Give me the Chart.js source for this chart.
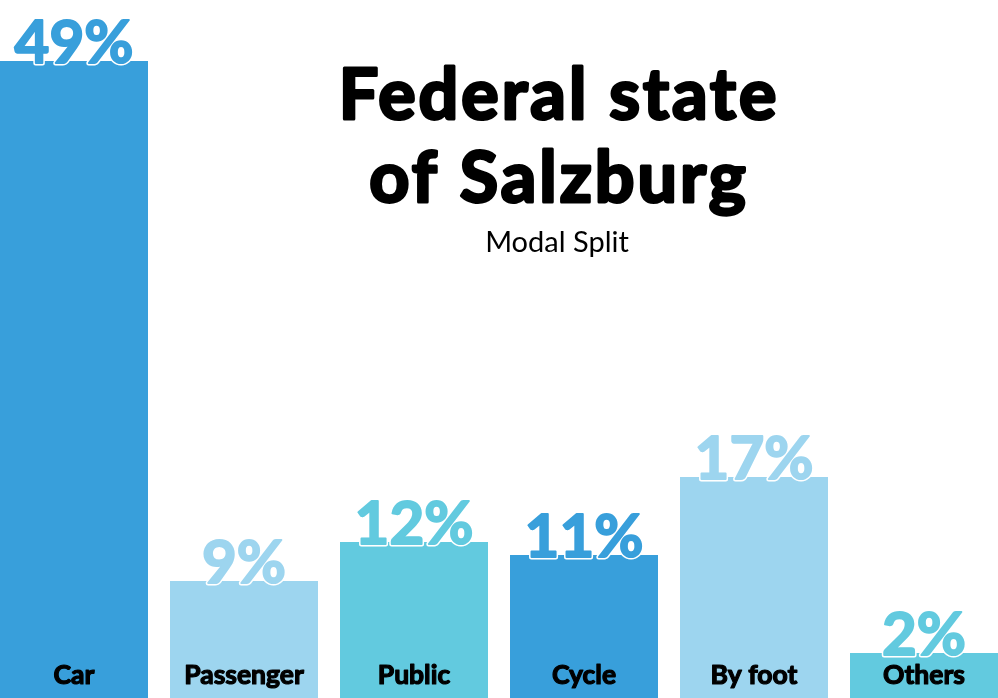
<!DOCTYPE html>
<html>
<head>
<meta charset="utf-8">
<script src="https://cdn.jsdelivr.net/npm/chart.js@4"></script>
<style>
  html, body { margin:0; padding:0; background:#fff; overflow:hidden; }
  #wrap { position:relative; width:1020px; height:698px; margin-left:-11px; }
</style>
</head>
<body>
<div id="wrap"><canvas id="modalChart"></canvas></div>
<script>
// Modal split, federal state of Salzburg
var categories = ['Car', 'Passenger', 'Public', 'Cycle', 'By foot', 'Others'];
var shares     = [49, 9, 12, 11, 17, 2];
var barColors  = ['#389fdb', '#9dd5ef', '#62cadf', '#389fdb', '#9dd5ef', '#62cadf'];
var titleLines = ['Federal state', 'of Salzburg'];
var subtitle   = 'Modal Split';

// draw text a bit heavier than Lato Bold (stroke in the same colour)
function heavyText(ctx, txt, x, y, color, weight) {
    ctx.lineJoin = 'round';
    ctx.lineWidth = weight;
    ctx.strokeStyle = color;
    ctx.strokeText(txt, x, y);
    ctx.fillStyle = color;
    ctx.fillText(txt, x, y);
}

// value labels on top of bars, category names inside the bars, title block
var labelsPlugin = {
    id: 'modalLabels',
    afterDatasetsDraw: function (chart) {
        var ctx = chart.ctx;
        var meta = chart.getDatasetMeta(0);
        var area = chart.chartArea;
        ctx.save();
        ctx.textAlign = 'center';
        ctx.textBaseline = 'alphabetic';
        meta.data.forEach(function (bar, i) {
            // percentage
            ctx.font = 'bold 60px Lato';
            ctx.lineJoin = 'round';
            ctx.lineWidth = 5;
            ctx.strokeStyle = '#fff';
            ctx.strokeText(shares[i] + '%', bar.x, bar.y + 2);
            heavyText(ctx, shares[i] + '%', bar.x, bar.y + 2, barColors[i], 2);
            // category
            ctx.font = 'bold 26.5px Lato';
            heavyText(ctx, categories[i], bar.x, area.bottom - 14, '#000', 1.2);
        });
        // title
        var cx = 570;
        ctx.font = 'bold 70px Lato';
        ctx.letterSpacing = '3px';
        heavyText(ctx, titleLines[0], cx, 119, '#000', 3);
        heavyText(ctx, titleLines[1], cx, 202, '#000', 3);
        ctx.letterSpacing = '0px';
        ctx.font = '400 29px Lato';
        ctx.fillStyle = '#000';
        ctx.fillText(subtitle, cx - 2, 252);
        ctx.restore();
    }
};

new Chart(document.getElementById('modalChart'), {
    type: 'bar',
    data: {
        labels: categories,
        datasets: [{
            data: shares,
            backgroundColor: barColors,
            borderWidth: 0,
            categoryPercentage: 1,
            barPercentage: 148 / 170,
            minBarLength: 45
        }]
    },
    options: {
        responsive: true, maintainAspectRatio: false, animation: false,
        layout: { padding: 0 },
        plugins: { legend: { display: false }, tooltip: { enabled: false } },
        scales: {
            x: { display: false, offset: true, grid: { display: false } },
            y: { display: false, min: 0, max: 53.7 }
        }
    },
    plugins: [labelsPlugin]
});
</script>
</body>
</html>
